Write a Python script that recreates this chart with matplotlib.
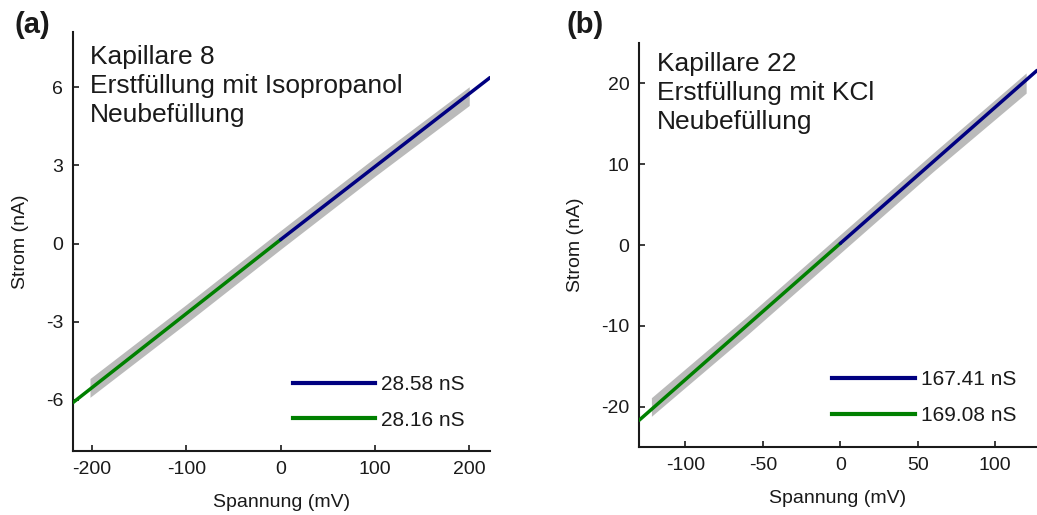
import matplotlib
matplotlib.use("Agg")
import matplotlib.pyplot as plt
from matplotlib.lines import Line2D

plt.rcParams['font.family'] = ['Liberation Sans', 'DejaVu Sans']
plt.rcParams['axes.unicode_minus'] = False

# ---------------- data ----------------
# panel (a): Kapillare 8
gray_a_v = [-202, -100, 0, 100, 200]
gray_a_lo = [-5.9, -3.06, -0.22, 2.58, 5.3]
gray_a_hi = [-5.18, -2.34, 0.5, 3.3, 6.02]
green_a_v = [-220, 0]
green_a_i = [-6.1, 0.15]
blue_a_v = [0, 222]
blue_a_i = [0.15, 6.37]
legend_a = ["28.58 nS", "28.16 nS"]
text_a = "Kapillare 8\nErstfüllung mit Isopropanol\nNeubefüllung"
xticks_a = [-200, -100, 0, 100, 200]
yticks_a = [-6, -3, 0, 3, 6]

# panel (b): Kapillare 22
gray_b_v = [-122, -60, 0, 60, 120]
gray_b_lo = [-21.2, -11.1, -1.0, 9.1, 18.8]
gray_b_hi = [-18.9, -8.8, 1.3, 11.4, 21.3]
green_b_v = [-130, 0]
green_b_i = [-21.7, 0.2]
blue_b_v = [0, 127]
blue_b_i = [0.2, 21.6]
legend_b = ["167.41 nS", "169.08 nS"]
text_b = "Kapillare 22\nErstfüllung mit KCl\nNeubefüllung"
xticks_b = [-100, -50, 0, 50, 100]
yticks_b = [-20, -10, 0, 10, 20]

BLUE = "#000080"
GREEN = "#008000"
GRAY = "#bababa"
INK = "#1a1a1a"

W, H = 1037, 515
fig = plt.figure(figsize=(W / 100, H / 100), dpi=100)


def px_axes(l, t, r, b):
    return fig.add_axes([l / W, 1 - b / H, (r - l) / W, (b - t) / H])


def style(ax, xlim, ylim, xt, yt):
    ax.set_xlim(*xlim)
    ax.set_ylim(*ylim)
    ax.set_xticks(xt)
    ax.set_yticks(yt)
    for s in ("top", "right"):
        ax.spines[s].set_visible(False)
    for s in ("left", "bottom"):
        ax.spines[s].set_linewidth(1.5)
        ax.spines[s].set_color(INK)
    ax.tick_params(direction="in", length=4, width=1.2, labelsize=14,
                   pad=7, colors=INK)
    ax.set_xlabel("Spannung (mV)", fontsize=14, labelpad=12, color=INK)
    ax.set_ylabel("Strom (nA)", fontsize=14, labelpad=12, color=INK)


def draw(ax, gv, glo, ghi, gnv, gni, bv, bi, labels, text, tx, ty, lx, ly):
    ax.fill_between(gv, glo, ghi, color=GRAY, lw=0, zorder=1)
    ax.plot(gnv, gni, color=GREEN, lw=2.5, zorder=3, solid_capstyle="round")
    ax.plot(bv, bi, color=BLUE, lw=2.5, zorder=3, solid_capstyle="round")
    handles = [Line2D([], [], color=BLUE, lw=3), Line2D([], [], color=GREEN, lw=3)]
    leg = ax.legend(handles, labels, loc="lower right", frameon=False, fontsize=15,
                    handlelength=3.95, handletextpad=0.3, labelspacing=0.8,
                    bbox_to_anchor=(lx, ly))
    for t in leg.get_texts():
        t.set_color(INK)
    ax.text(tx, ty, text, transform=ax.transAxes, ha="left", va="top",
            fontsize=19, linespacing=1.27, color=INK)


ax_a = px_axes(73, 32, 490, 451)
draw(ax_a, gray_a_v, gray_a_lo, gray_a_hi, green_a_v, green_a_i,
     blue_a_v, blue_a_i, legend_a, text_a, 0.041, 0.969, 0.985, 0.006)
style(ax_a, (-220, 222), (-7.96, 8.12), xticks_a, yticks_a)

ax_b = px_axes(639, 43, 1037, 447)
draw(ax_b, gray_b_v, gray_b_lo, gray_b_hi, green_b_v, green_b_i,
     blue_b_v, blue_b_i, legend_b, text_b, 0.044, 0.978, 0.995, 0.008)
style(ax_b, (-130, 127), (-25, 25), xticks_b, yticks_b)

fig.text(15 / W, 1 - 11 / H, "(a)", fontsize=21, fontweight="bold",
         ha="left", va="top", color=INK)
fig.text(567 / W, 1 - 11 / H, "(b)", fontsize=21, fontweight="bold",
         ha="left", va="top", color=INK)

fig.savefig("out.png", dpi=100)
